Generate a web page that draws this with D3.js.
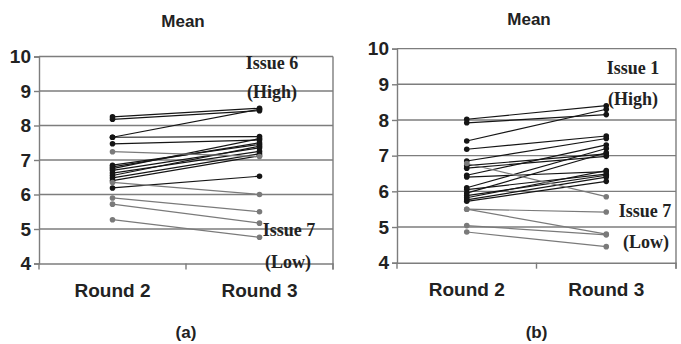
<!DOCTYPE html>
<html lang="en">
<head>
<meta charset="UTF-8"/>
<title>Mean scores, Round 2 vs Round 3</title>
<script src="https://d3js.org/d3.v7.min.js"></script>
<style>
	body { margin: 0; background: #fff; }
	svg text { font-family: "Liberation Sans", Arial, sans-serif; }
	.note { font-family: "Liberation Serif", "Times New Roman", serif !important; font-weight: bold; }
</style>
</head>
<body>
<script>
var w = 681;
var h = 344;

var rounds = ["Round 2", "Round 3"];
var yTicks = [4, 5, 6, 7, 8, 9, 10];

// panel (a)
var aRound2 = [8.25, 8.18, 7.66, 7.66, 7.47, 6.85, 6.80, 6.75, 6.70, 6.62, 6.55, 6.48, 6.40, 6.19, 7.24, 6.35, 5.90, 5.72, 5.27];
var aRound3 = [8.50, 8.43, 8.47, 7.68, 7.58, 7.45, 7.50, 7.62, 7.35, 7.25, 7.40, 7.18, 7.12, 6.53, 7.10, 6.00, 5.50, 5.17, 4.76];
var aNotes = ["Issue 6", "(High)", "Issue 7", "(Low)"];

// panel (b)
var bRound2 = [8.02, 7.92, 7.41, 7.18, 6.85, 6.72, 6.65, 6.45, 6.40, 6.10, 6.05, 5.95, 5.88, 5.82, 5.76, 5.72, 6.78, 5.50, 5.50, 5.04, 4.86];
var bRound3 = [8.40, 8.15, 8.30, 7.55, 7.48, 7.05, 6.98, 7.30, 6.55, 7.20, 6.48, 7.08, 6.45, 6.58, 6.40, 6.28, 5.85, 5.42, 4.80, 4.78, 4.45];
var bNotes = ["Issue 1", "(High)", "Issue 7", "(Low)"];

var svg = d3.select("body")
			.append("svg")
			.attr("width", w)
			.attr("height", h);

function drawPanel(p) {
	var r2 = p.r2, r3 = p.r3;
	var series = r2.map(function(d, i) { return [d, r3[i]]; });

	var xScale = d3.scaleBand()
					.domain(rounds)
					.range([p.left, p.right]);

	var yScale = d3.scaleLinear()
					.domain([4, 10])
					.range([p.bottom, p.top]);

	var g = svg.append("g");

	// grid lines
	g.selectAll(".grid")
		.data(yTicks.slice(1))
		.enter()
		.append("line")
		.attr("x1", p.left)
		.attr("x2", p.right)
		.attr("y1", function(d) { return yScale(d); })
		.attr("y2", function(d) { return yScale(d); })
		.attr("stroke", "#7d7d7d")
		.attr("stroke-width", 1.4);

	// right border
	g.append("line")
		.attr("x1", p.right).attr("x2", p.right)
		.attr("y1", yScale(10)).attr("y2", yScale(4) + 6)
		.attr("stroke", "#7d7d7d")
		.attr("stroke-width", 1.4);

	//y axis
	var yAxis = d3.axisLeft(yScale)
				.tickValues(yTicks)
				.tickFormat(d3.format("d"))
				.tickSize(5)
				.tickPadding(3);
	var ya = g.append("g")
		.attr("transform", "translate(" + p.left + ",0)")
		.call(yAxis);
	ya.select(".domain").attr("stroke", "#7d7d7d").attr("stroke-width", 1.4);
	ya.selectAll(".tick line").attr("stroke", "#7d7d7d").attr("stroke-width", 1.4);
	ya.selectAll("text")
		.style("font-size", "19px")
		.style("font-weight", "bold")
		.attr("fill", "#222");

	//x axis
	var xAxis = d3.axisBottom(xScale)
				.tickSize(0)
				.tickPadding(20);
	var xa = g.append("g")
		.attr("transform", "translate(0," + p.bottom + ")")
		.call(xAxis);
	xa.select(".domain").attr("stroke", "#7d7d7d").attr("stroke-width", 1.4);
	xa.selectAll("text")
		.style("font-size", "19px")
		.style("font-weight", "bold")
		.attr("fill", "#222");

	// tick marks between categories
	g.selectAll(".xt")
		.data([p.left, (p.left + p.right) / 2, p.right])
		.enter()
		.append("line")
		.attr("x1", function(d) { return d; })
		.attr("x2", function(d) { return d; })
		.attr("y1", p.bottom)
		.attr("y2", p.bottom + 6)
		.attr("stroke", "#7d7d7d")
		.attr("stroke-width", 1.4);

	function col(d) { return d[1] >= d[0] ? "#151515" : "#7a7a7a"; }
	var cx = function(k) { return xScale(rounds[k]) + xScale.bandwidth() / 2; };

	// lines
	g.selectAll(".link")
		.data(series)
		.enter()
		.append("line")
		.attr("x1", cx(0))
		.attr("x2", cx(1))
		.attr("y1", function(d) { return yScale(d[0]); })
		.attr("y2", function(d) { return yScale(d[1]); })
		.attr("stroke", col)
		.attr("stroke-width", 1.2);

	// points
	[0, 1].forEach(function(k) {
		g.selectAll(".pt" + k)
			.data(series)
			.enter()
			.append("circle")
			.attr("cx", cx(k))
			.attr("cy", function(d) { return yScale(d[k]); })
			.attr("r", 2.8)
			.attr("fill", col);
	});

	// title
	g.append("text")
		.attr("x", p.titleX)
		.attr("y", p.titleY)
		.attr("text-anchor", "middle")
		.style("font-size", "17px")
		.style("font-weight", "bold")
		.attr("fill", "#222")
		.text("Mean");

	// panel label
	g.append("text")
		.attr("x", (p.left + p.right) / 2)
		.attr("y", 338)
		.attr("text-anchor", "middle")
		.style("font-size", "17px")
		.style("font-weight", "bold")
		.attr("fill", "#222")
		.text(p.label);

	// issue notes
	g.selectAll(".note")
		.data(p.notes)
		.enter()
		.append("text")
		.attr("class", "note")
		.attr("x", function(d, i) { return p.noteX[i]; })
		.attr("y", function(d, i) { return p.noteY[i]; })
		.attr("text-anchor", "middle")
		.style("font-size", "18px")
		.attr("fill", "#222")
		.text(function(d) { return d; });
}

drawPanel({
	r2: aRound2, r3: aRound3, notes: aNotes,
	left: 39, right: 333, top: 56.5, bottom: 263.5,
	titleX: 183, titleY: 27, label: "(a)",
	noteX: [272, 272, 289, 288], noteY: [69, 98, 236, 268]
});

drawPanel({
	r2: bRound2, r3: bRound3, notes: bNotes,
	left: 397, right: 676, top: 48.6, bottom: 262.7,
	titleX: 529, titleY: 25, label: "(b)",
	noteX: [633, 633, 645, 646], noteY: [74, 105, 217, 248]
});
</script>
</body>
</html>
